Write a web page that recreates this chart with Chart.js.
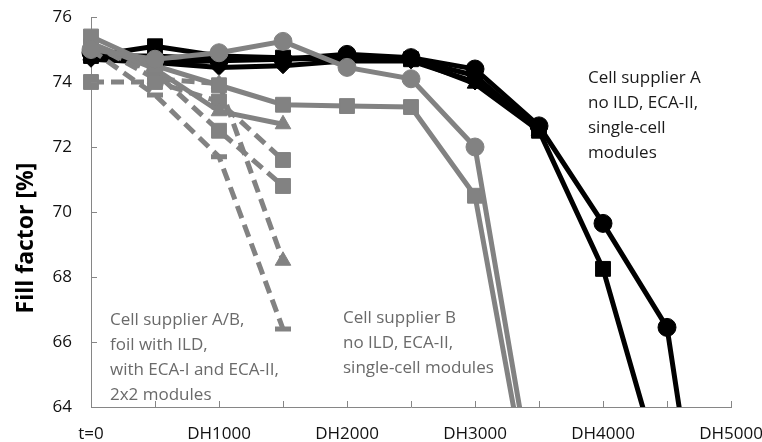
<!DOCTYPE html>
<html>
<head>
<meta charset="utf-8">
<script src="https://cdn.jsdelivr.net/npm/chart.js@4/dist/chart.umd.min.js"></script>
<style>
  html, body { margin: 0; padding: 0; background: #fff; }
</style>
</head>
<body>
<canvas id="ffChart" width="762" height="442"></canvas>
<script>
// categories along the damp-heat axis
const categories = ['t=0', 'DH500', 'DH1000', 'DH1500', 'DH2000', 'DH2500', 'DH3000', 'DH3500', 'DH4000', 'DH4500', 'DH5000'];
const yTicks = [64, 66, 68, 70, 72, 74, 76];

// cell supplier A, no ILD, ECA-II, single-cell modules (black)
const aCircle   = [74.9, 74.6, 74.65, 74.7, 74.85, 74.75, 74.4, 72.65, 69.65, 66.45, 53.5];
const aSquare   = [74.8, 75.1, 74.8, 74.75, 74.7, 74.7, 74.2, 72.5, 68.25, 61.4, null];
const aDiamond  = [74.7, 74.6, 74.45, 74.5, 74.65, 74.65, 74.0, 72.55, null, null, null];
const aTriangle = [74.8, 74.8, 74.7, 74.7, 74.75, 74.7, 73.95, 72.5, null, null, null];

// cell supplier B, no ILD, ECA-II, single-cell modules (grey, solid)
const bCircle = [75.0, 74.7, 74.9, 75.25, 74.45, 74.1, 72.0, 60.5, null, null, null];
const bSquare = [75.4, 74.5, 73.9, 73.3, 73.26, 73.23, 70.5, 59.7, null, null, null];
const bTriangle = [75.2, 74.4, 73.1, 72.7, null, null, null, null, null, null, null];

// cell supplier A/B, foil with ILD, 2x2 modules (grey, dashed)
const fSquare1 = [74.0, 74.0, 73.4, 71.6, null, null, null, null, null, null, null];
const fSquare2 = [75.1, 74.3, 72.5, 70.8, null, null, null, null, null, null, null];
const fTriangle = [75.2, 74.1, 73.95, 68.5, null, null, null, null, null, null, null];
const fDash = [75.0, 73.6, 71.7, 66.4, null, null, null, null, null, null, null];

const BLACK = '#000000';
const GREY = '#828282';
const FONT = "'Open Sans', sans-serif";

function series(data, color, style, dashed) {
    const radius = { circle: 9, rect: 10.5, rectRot: 8, triangle: 9, line: 8 }[style];
    return {
        data: data,
        borderColor: color,
        backgroundColor: color,
        borderWidth: 5,
        borderDash: dashed ? [13, 7] : [],
        pointStyle: style,
        pointRadius: radius,
        pointBorderWidth: style === 'line' ? 5 : 1,
        pointBorderColor: color,
        pointBackgroundColor: color,
        tension: 0,
        spanGaps: false,
        clip: { left: 14, top: 14, right: 14, bottom: 0 }
    };
}

// inward tick marks, y title and the three notes
const decorPlugin = {
    id: 'decor',
    afterDraw(chart) {
        const ctx = chart.ctx;
        const x = chart.scales.x, y = chart.scales.y;
        ctx.save();
        ctx.strokeStyle = '#868686';
        ctx.lineWidth = 1;
        ctx.beginPath();
        yTicks.forEach(v => {
            const py = Math.round(y.getPixelForValue(v)) + 0.5;
            ctx.moveTo(x.left, py);
            ctx.lineTo(x.left + 6, py);
        });
        categories.forEach((c, i) => {
            const px = Math.round(x.getPixelForValue(i)) + 0.5;
            ctx.moveTo(px, y.bottom);
            ctx.lineTo(px, y.bottom - 6);
        });
        ctx.stroke();

        ctx.fillStyle = '#000';
        ctx.font = 'bold 23px ' + FONT;
        ctx.textAlign = 'center';
        ctx.textBaseline = 'middle';
        ctx.translate(26, 238);
        ctx.rotate(-Math.PI / 2);
        ctx.fillText('Fill factor [%]', 0, 0);
        ctx.restore();

        ctx.save();
        ctx.font = '17px ' + FONT;
        ctx.textAlign = 'left';
        ctx.textBaseline = 'middle';
        ctx.fillStyle = '#1a1a1a';
        ['Cell supplier A', 'no ILD, ECA-II,', 'single-cell', 'modules'].forEach((t, i) => ctx.fillText(t, 588, 78 + i * 25));
        ctx.fillStyle = '#6a6a6a';
        ['Cell supplier B', 'no ILD, ECA-II,', 'single-cell modules'].forEach((t, i) => ctx.fillText(t, 343, 318 + i * 25));
        ['Cell supplier A/B,', 'foil with ILD,', 'with ECA-I and ECA-II,', '2x2 modules'].forEach((t, i) => ctx.fillText(t, 110, 320 + i * 25));
        ctx.restore();
    }
};

const ctx = document.getElementById('ffChart').getContext('2d');
new Chart(ctx, {
    type: 'line',
    data: {
        labels: categories,
        datasets: [
            series(bCircle, GREY, 'circle', false),
            series(bSquare, GREY, 'rect', false),
            series(bTriangle, GREY, 'triangle', false),
            series(fSquare1, GREY, 'rect', true),
            series(fSquare2, GREY, 'rect', true),
            series(fTriangle, GREY, 'triangle', true),
            series(fDash, GREY, 'line', true),
            series(aCircle, BLACK, 'circle', false),
            series(aSquare, BLACK, 'rect', false),
            series(aDiamond, BLACK, 'rectRot', false),
            series(aTriangle, BLACK, 'triangle', false)
        ]
    },
    options: {
        responsive: false,
        animation: false,
        devicePixelRatio: 1,
        layout: { padding: { top: 17, right: 31, left: 0, bottom: 0 } },
        plugins: { legend: { display: false }, tooltip: { enabled: false } },
        scales: {
            x: {
                offset: false,
                grid: { drawOnChartArea: false, drawTicks: false },
                border: { color: '#868686', width: 1 },
                ticks: {
                    autoSkip: false,
                    maxRotation: 0,
                    padding: 17,
                    color: '#111',
                    font: { family: FONT, size: 17 },
                    callback: (v, i) => (i % 2 === 0 ? categories[i] : '')
                },
                afterFit: s => { s.height = 35; s.paddingLeft = 0; s.paddingRight = 0; }
            },
            y: {
                min: 64,
                max: 76,
                grid: { drawOnChartArea: false, drawTicks: false },
                border: { color: '#868686', width: 1 },
                ticks: {
                    stepSize: 2,
                    padding: 19,
                    color: '#111',
                    font: { family: FONT, size: 17 }
                },
                afterFit: s => { s.width = 91; s.paddingTop = 0; s.paddingBottom = 0; }
            }
        }
    },
    plugins: [decorPlugin]
});
</script>
</body>
</html>
